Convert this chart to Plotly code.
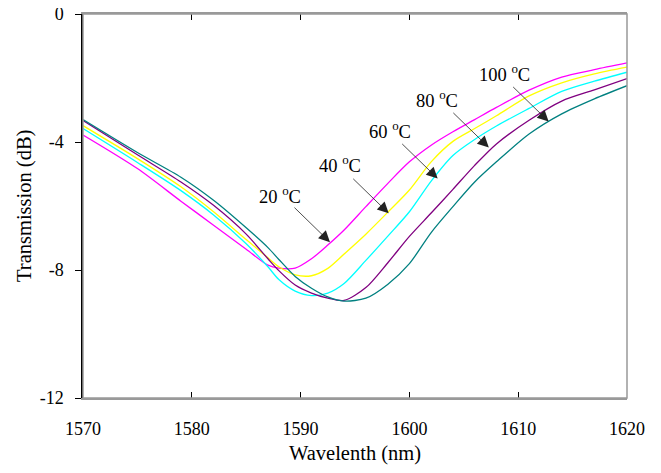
import plotly.graph_objects as go

wavelength = [1570, 1575, 1579, 1582, 1585, 1587, 1588, 1589.5, 1591, 1592.5, 1594, 1596,
              1598, 1600, 1602, 1604, 1606, 1608, 1611, 1614, 1617, 1620]

t20 = [-3.78, -4.83, -5.85, -6.60, -7.35, -7.85, -7.94, -7.94, -7.65, -7.22, -6.75, -6.02,
       -5.30, -4.62, -4.10, -3.68, -3.30, -2.92, -2.38, -1.97, -1.74, -1.53]
t40 = [-3.49, -4.52, -5.40, -6.18, -7.05, -7.62, -7.90, -8.15, -8.18, -7.95, -7.50, -6.88,
       -6.20, -5.50, -4.62, -3.98, -3.58, -3.18, -2.56, -2.15, -1.87, -1.66]
t60 = [-3.58, -4.64, -5.52, -6.28, -7.18, -7.90, -8.30, -8.66, -8.80, -8.72, -8.42, -7.70,
       -6.95, -6.18, -5.22, -4.42, -3.92, -3.50, -2.95, -2.42, -2.10, -1.82]
t80 = [-3.33, -4.40, -5.25, -5.98, -6.88, -7.65, -8.02, -8.47, -8.72, -8.88, -8.95, -8.55,
       -7.78, -6.95, -6.22, -5.48, -4.73, -4.06, -3.32, -2.72, -2.37, -2.02]
t100 = [-3.30, -4.33, -5.10, -5.82, -6.68, -7.30, -7.67, -8.20, -8.57, -8.84, -8.97, -8.88,
        -8.45, -7.80, -6.83, -6.02, -5.25, -4.62, -3.75, -3.12, -2.65, -2.24]

series_names = ["20 oC", "40 oC", "60 oC", "80 oC", "100 oC"]
series_values = [t20, t40, t60, t80, t100]
series_colors = ["#FF00FF", "#FFFF00", "#00FFFF", "#800080", "#008080"]

x_ticks = [1570, 1580, 1590, 1600, 1610, 1620]
y_ticks = [0, -4, -8, -12]

x_title = "Wavelenth (nm)"
y_title = "Transmission (dB)"

# label annotations: (text, label x, label y, arrow tip x, arrow tip y)
labels = ["20 <sup>o</sup>C", "40 <sup>o</sup>C", "60 <sup>o</sup>C", "80 <sup>o</sup>C", "100 <sup>o</sup>C"]
label_x = [1588.1, 1593.6, 1598.2, 1602.5, 1608.7]
label_y = [-5.67, -4.70, -3.64, -2.65, -1.84]
tip_x = [1592.7, 1598.1, 1602.6, 1607.3, 1612.8]
tip_y = [-7.13, -6.23, -5.14, -4.17, -3.36]

FONT = "Liberation Serif, Times New Roman, serif"

fig = go.Figure()
for name, vals, col in zip(series_names, series_values, series_colors):
    fig.add_trace(go.Scatter(x=wavelength, y=vals, mode="lines", name=name,
                             line=dict(color=col, width=1.3, shape="spline", smoothing=0.8)))

annotations = []
for txt, lx, ly, tx, ty in zip(labels, label_x, label_y, tip_x, tip_y):
    annotations.append(dict(x=lx, y=ly, xref="x", yref="y", text=txt, showarrow=False,
                            font=dict(family=FONT, size=18.5, color="black"),
                            xanchor="center", yanchor="middle"))
    annotations.append(dict(x=tx, y=ty, xref="x", yref="y", text="", showarrow=True,
                            ax=-37, ay=-36, arrowhead=2, arrowsize=2.8, arrowwidth=0.8,
                            arrowcolor="#222222"))

# axis titles
annotations.append(dict(x=0.5, y=0, xref="paper", yref="paper", text=x_title, showarrow=False,
                        xanchor="center", yanchor="middle", yshift=-55,
                        font=dict(family=FONT, size=20.5, color="black")))
annotations.append(dict(x=0, y=0.5, xref="paper", yref="paper", text=y_title, showarrow=False,
                        xanchor="center", yanchor="middle", xshift=-59, textangle=-90,
                        font=dict(family=FONT, size=20.5, color="black")))

fig.update_layout(
    width=645, height=457,
    margin=dict(l=75, r=26, t=6, b=67, autoexpand=False),
    paper_bgcolor="white", plot_bgcolor="white",
    showlegend=False,
    font=dict(family=FONT, size=18, color="black"),
    annotations=annotations,
    shapes=[dict(type="rect", xref="paper", yref="paper", x0=0, x1=1, y0=0, y1=1,
                 line=dict(color="#999999", width=1.5), fillcolor="rgba(0,0,0,0)", layer="above")],
    xaxis=dict(range=[1570, 1620], tickvals=x_ticks, ticktext=[str(v) for v in x_ticks],
               automargin=False, ticklabeloverflow="allow",
               showgrid=False, zeroline=False, showline=True, linecolor="#999999", linewidth=1.5,
               mirror="ticks", ticks="inside", ticklen=6, tickcolor="black", tickwidth=1,
               ticklabelstandoff=14,
               tickfont=dict(family=FONT, size=18)),
    yaxis=dict(range=[-12, 0], tickvals=y_ticks, ticktext=[str(v) for v in y_ticks],
               automargin=False, ticklabeloverflow="allow",
               showgrid=False, zeroline=False, showline=True, linecolor="black", linewidth=1.5,
               ticks="outside", ticklen=6, tickcolor="black", tickwidth=1,
               ticklabelstandoff=8, layer="above traces",
               tickfont=dict(family=FONT, size=18)),
)

fig.write_html("out.html", config={"displayModeBar": False})
